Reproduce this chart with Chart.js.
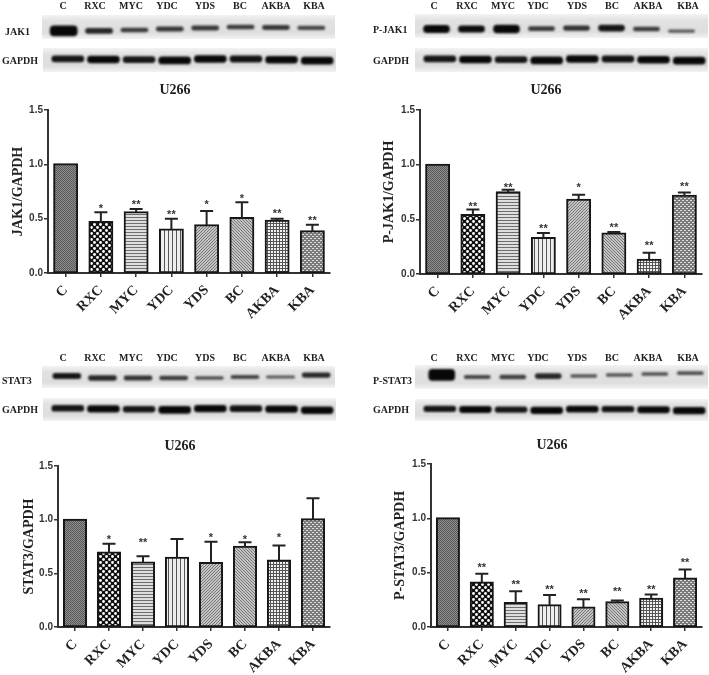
<!DOCTYPE html>
<html>
<head>
<meta charset="utf-8">
<script src="https://cdn.jsdelivr.net/npm/chart.js@4"></script>
<style>
  html, body { margin: 0; padding: 0; background: #fff; }
  #wrap { position: relative; width: 709px; height: 675px; overflow: hidden; filter: blur(0.5px); }
  canvas { position: absolute; }
  .lbl { position: absolute; font: bold 10px "Liberation Serif", serif; color: #222; white-space: nowrap; transform: translate(-50%, -50%); }
  .ttl { position: absolute; font: bold 14px "Liberation Serif", serif; color: #222; transform: translate(-50%, -50%); }
  .row { transform: translate(0, -50%); }
</style>
</head>
<body>
<div id="wrap"></div>
<script>
const groups = ['C', 'RXC', 'MYC', 'YDC', 'YDS', 'BC', 'AKBA', 'KBA'];
const yTicks = [0, 0.5, 1.0, 1.5];

// bar height, upper end of the error bar, level of the star text
const jak1Values = [1.0, 0.47, 0.56, 0.40, 0.44, 0.505, 0.48, 0.385];
const jak1Tops = [null, 0.56, 0.59, 0.50, 0.57, 0.65, 0.50, 0.445];
const jak1Stars = ['', '*', '**', '**', '*', '*', '**', '**'];
const jak1StarLevels = [null, 0.62, 0.65, 0.565, 0.657, 0.71, 0.57, 0.505];

const pjak1Values = [1.0, 0.54, 0.747, 0.33, 0.68, 0.37, 0.13, 0.715];
const pjak1Tops = [null, 0.59, 0.77, 0.375, 0.725, 0.385, 0.195, 0.745];
const pjak1Stars = ['', '**', '**', '**', '*', '**', '**', '**'];
const pjak1StarLevels = [null, 0.645, 0.81, 0.44, 0.81, 0.45, 0.28, 0.82];

const stat3Values = [1.0, 0.695, 0.60, 0.645, 0.596, 0.748, 0.62, 1.003];
const stat3Tops = [null, 0.776, 0.66, 0.82, 0.795, 0.79, 0.76, 1.2];
const stat3Stars = ['', '*', '**', '', '*', '*', '*', ''];
const stat3StarLevels = [null, 0.84, 0.81, null, 0.857, 0.835, 0.854, null];

const pstat3Values = [1.0, 0.41, 0.22, 0.20, 0.18, 0.228, 0.26, 0.446];
const pstat3Tops = [null, 0.49, 0.33, 0.295, 0.255, 0.245, 0.30, 0.53];
const pstat3Stars = ['', '**', '**', '**', '**', '**', '**', '**'];
const pstat3StarLevels = [null, 0.575, 0.41, 0.37, 0.33, 0.348, 0.37, 0.615];

// blot band density and vertical level per lane
const jak1Bands = [1.0, 0.5, 0.4, 0.42, 0.42, 0.4, 0.42, 0.35];
const jak1Levels = [-0.33, -0.33, -0.25, -0.17, -0.08, 0, -0.04, -0.08];
const pjak1Bands = [0.75, 0.65, 0.8, 0.4, 0.45, 0.6, 0.4, 0.25];
const pjak1Levels = [-0.25, -0.25, -0.25, -0.22, -0.17, -0.17, -0.25, -0.42];
const stat3Bands = [0.6, 0.5, 0.45, 0.4, 0.3, 0.35, 0.28, 0.5];
const stat3Levels = [0.09, -0.09, -0.09, -0.09, -0.09, 0, 0, 0.18];
const pstat3Bands = [1.1, 0.35, 0.38, 0.5, 0.28, 0.28, 0.3, 0.3];
const pstat3Levels = [0.17, 0, 0, 0.08, 0.08, 0.17, 0.25, 0.33];
const gapdhBands = [0.6, 0.68, 0.6, 0.72, 0.68, 0.62, 0.68, 0.7];
const gapdhLevels = [0.1, 0.05, 0.03, -0.03, 0.08, 0.08, 0.03, -0.06];

const wrap = document.getElementById('wrap');

function tile(size, paint) {
  const c = document.createElement('canvas');
  c.width = size;
  c.height = size;
  paint(c.getContext('2d'));
  return c.getContext('2d').createPattern(c, 'repeat');
}

function fillTile(g, size, bg) {
  g.fillStyle = bg;
  g.fillRect(0, 0, size, size);
}

const patterns = [
  tile(2, g => { fillTile(g, 2, '#8c8c8c'); g.fillStyle = '#5a5a5a'; g.fillRect(0, 0, 1, 1); g.fillRect(1, 1, 1, 1); }),
  tile(6, g => {
    fillTile(g, 6, '#111');
    g.fillStyle = '#fff';
    [[1.5, 1.5], [4.5, 4.5]].forEach(p => { g.beginPath(); g.arc(p[0], p[1], 1.4, 0, 7); g.fill(); });
  }),
  tile(3, g => { fillTile(g, 3, '#dedede'); g.fillStyle = '#6e6e6e'; g.fillRect(0, 0, 3, 1); }),
  tile(4, g => { fillTile(g, 4, '#eee'); g.fillStyle = '#555'; g.fillRect(0, 0, 1, 4); }),
  tile(3, g => { fillTile(g, 3, '#c4c4c4'); g.fillStyle = '#777'; for (let i = 0; i < 3; i++) g.fillRect(i, 2 - i, 1, 1); }),
  tile(3, g => { fillTile(g, 3, '#c4c4c4'); g.fillStyle = '#777'; for (let i = 0; i < 3; i++) g.fillRect(i, i, 1, 1); }),
  tile(3, g => { fillTile(g, 3, '#f2f2f2'); g.fillStyle = '#555'; g.fillRect(0, 0, 3, 1); g.fillRect(0, 0, 1, 3); }),
  tile(4, g => {
    fillTile(g, 4, '#7a7a7a');
    g.fillStyle = '#e0e0e0';
    g.fillRect(0, 0, 2, 1); g.fillRect(2, 2, 2, 1);
  }),
];

// error bars and significance stars, placed through the y scale
const errorBars = {
  id: 'errorBars',
  afterDatasetsDraw(chart, args, opts) {
    const ctx = chart.ctx;
    const y = chart.scales.y;
    const bars = chart.getDatasetMeta(0).data;
    ctx.save();
    ctx.strokeStyle = '#222';
    ctx.lineWidth = 2;
    opts.tops.forEach((top, i) => {
      if (top === null) return;
      const x = bars[i].x;
      const py = y.getPixelForValue(top);
      ctx.beginPath();
      ctx.moveTo(x, y.getPixelForValue(chart.data.datasets[0].data[i]));
      ctx.lineTo(x, py);
      ctx.moveTo(x - 6.5, py);
      ctx.lineTo(x + 6.5, py);
      ctx.stroke();
    });
    ctx.fillStyle = '#333';
    ctx.font = 'bold 11px "Liberation Sans", sans-serif';
    ctx.textAlign = 'center';
    ctx.textBaseline = 'middle';
    opts.stars.forEach((s, i) => {
      if (!s) return;
      ctx.fillText(s, bars[i].x, y.getPixelForValue(opts.starLevels[i]) + 3);
    });
    ctx.restore();
  },
};

const blurBands = {
  id: 'blurBands',
  beforeDatasetsDraw(chart) {
    chart.ctx.save();
    chart.ctx.filter = 'blur(1.3px)';
  },
  afterDatasetsDraw(chart) {
    chart.ctx.restore();
  },
};

function addCanvas(left, top, width, height) {
  const c = document.createElement('canvas');
  c.width = width;
  c.height = height;
  c.style.left = left + 'px';
  c.style.top = top + 'px';
  wrap.appendChild(c);
  return c;
}

function addText(cls, text, x, y) {
  const d = document.createElement('div');
  d.className = cls;
  d.textContent = text;
  d.style.left = x + 'px';
  d.style.top = y + 'px';
  wrap.appendChild(d);
}

function makeBlot(box, padL, padR, thick, bands, levels) {
  const canvas = addCanvas(box[0], box[1], box[2], box[3]);
  canvas.style.background = 'linear-gradient(to bottom, #f3f3f3 0%, #e2e2e2 25%, #dedede 75%, #f3f3f3 100%)';
  new Chart(canvas, {
    type: 'bar',
    data: {
      labels: groups,
      datasets: [{
        data: bands.map((b, i) => [levels[i] - b * 0.42, levels[i] + b * 0.42]),
        backgroundColor: bands.map(b => 'rgba(8,8,8,' + Math.min(1, 0.4 + b * 0.9) + ')'),
        barThickness: thick,
        borderRadius: 4,
        borderSkipped: false,
      }],
    },
    options: {
      responsive: false,
      animation: false,
      layout: { padding: { left: padL, right: padR, top: 0, bottom: 0 } },
      plugins: { legend: { display: false }, tooltip: { enabled: false } },
      scales: {
        x: { display: false },
        y: { display: false, min: -1, max: 1 },
      },
    },
    plugins: [blurBands],
  });
}

function makeBars(box, axisW, axisH, padTop, padRight, titleX, yTitle, values, tops, stars, starLevels) {
  const canvas = addCanvas(box[0], box[1], box[2], box[3]);
  new Chart(canvas, {
    type: 'bar',
    data: {
      labels: groups,
      datasets: [{
        data: values,
        backgroundColor: patterns,
        borderColor: '#161616',
        borderWidth: 2,
        borderSkipped: false,
        inflateAmount: 1,
        barPercentage: 0.65,
        categoryPercentage: 1,
      }],
    },
    options: {
      responsive: false,
      animation: false,
      layout: { padding: { top: padTop, right: padRight, left: 0, bottom: 0 } },
      plugins: {
        legend: { display: false },
        tooltip: { enabled: false },
        errorBars: { tops: tops, stars: stars, starLevels: starLevels },
      },
      scales: {
        x: {
          afterFit: s => { s.height = axisH; },
          border: { color: '#333', width: 2 },
          grid: { offset: false, drawOnChartArea: false, color: '#333', lineWidth: 1.5, tickLength: 4 },
          ticks: {
            minRotation: 45,
            maxRotation: 45,
            padding: 5,
            color: '#222',
            font: { family: '"Liberation Serif", serif', size: 14, weight: 'bold' },
          },
        },
        y: {
          min: 0,
          max: 1.5,
          afterFit: s => { s.width = axisW; },
          afterBuildTicks: s => { s.ticks = yTicks.map(v => ({ value: v })); },
          border: { color: '#333', width: 2 },
          grid: { drawOnChartArea: false, color: '#333', lineWidth: 1.5, tickLength: 4 },
          title: {
            display: true,
            text: yTitle,
            color: '#222',
            padding: { top: titleX, bottom: 0 },
            font: { family: '"Liberation Serif", serif', size: 14, weight: 'bold' },
          },
          ticks: {
            padding: 1,
            color: '#333',
            font: { family: '"Liberation Sans", sans-serif', size: 10, weight: 'bold' },
            callback: v => Number(v).toFixed(1),
          },
        },
      },
    },
    plugins: [errorBars],
  });
}

function laneLabels(xs, y) {
  groups.forEach((g, i) => addText('lbl', g, xs[i], y));
}

const lanesLeft = [63, 95, 131, 167, 205, 240, 276, 314];
const lanesRight = [434, 467, 503, 538, 577, 612, 648, 688];

// top left: JAK1
laneLabels(lanesLeft, 4.5);
addText('lbl row', 'JAK1', 5, 31);
addText('lbl row', 'GAPDH', 2, 60);
makeBlot([42, 15, 293, 24], 4, 6, 27, jak1Bands, jak1Levels);
makeBlot([43, 48, 293, 24], 7, 1, 32, gapdhBands, gapdhLevels);
addText('ttl', 'U266', 175, 90);
makeBars([0, 100, 340, 235], 48, 62, 10, 10, 10, 'JAK1/GAPDH', jak1Values, jak1Tops, jak1Stars, jak1StarLevels);

// top right: P-JAK1
laneLabels(lanesRight, 4.5);
addText('lbl row', 'P-JAK1', 373, 29);
addText('lbl row', 'GAPDH', 373, 60);
makeBlot([415, 14, 293, 24], 4, 9, 26, pjak1Bands, pjak1Levels);
makeBlot([415, 48, 293, 24], 7, 1, 32, gapdhBands, gapdhLevels);
addText('ttl', 'U266', 546, 90);
makeBars([370, 100, 339, 235], 50, 61, 10, 7, 11, 'P-JAK1/GAPDH', pjak1Values, pjak1Tops, pjak1Stars, pjak1StarLevels);

// bottom left: STAT3
laneLabels(lanesLeft, 357);
addText('lbl row', 'STAT3', 2, 380);
addText('lbl row', 'GAPDH', 2, 409);
makeBlot([42, 366, 293, 22], 7, 1, 28, stat3Bands, stat3Levels);
makeBlot([43, 398, 293, 23], 7, 1, 32, gapdhBands, gapdhLevels);
addText('ttl', 'U266', 180, 446);
makeBars([0, 456, 340, 219], 58, 48, 10, 10, 21, 'STAT3/GAPDH', stat3Values, stat3Tops, stat3Stars, stat3StarLevels);

// bottom right: P-STAT3
laneLabels(lanesRight, 357);
addText('lbl row', 'P-STAT3', 373, 380);
addText('lbl row', 'GAPDH', 373, 409);
makeBlot([415, 365, 293, 24], 9, 0, 26, pstat3Bands, pstat3Levels);
makeBlot([415, 399, 293, 22], 7, 1, 32, gapdhBands, gapdhLevels);
addText('ttl', 'U266', 552, 445);
makeBars([370, 454, 339, 221], 61, 48, 10, 7, 22, 'P-STAT3/GAPDH', pstat3Values, pstat3Tops, pstat3Stars, pstat3StarLevels);
</script>
</body>
</html>
